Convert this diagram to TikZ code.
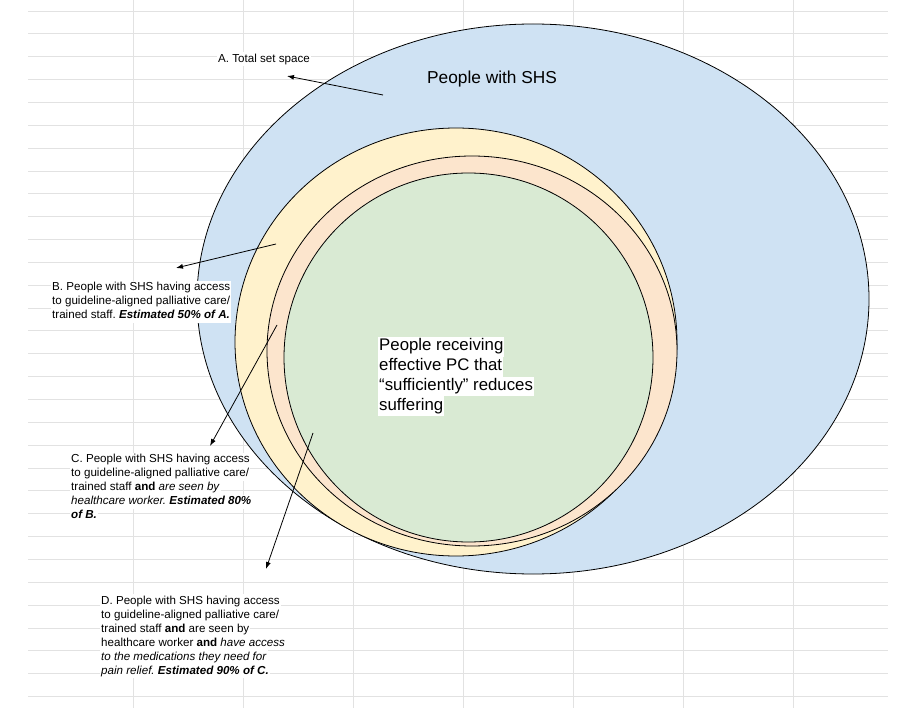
\documentclass[tikz,border=0pt]{standalone}
\usepackage{fontspec}
\setmainfont{Liberation Sans}
\usetikzlibrary{arrows.meta}
\frenchspacing

\definecolor{shsblue}{HTML}{CFE2F3}
\definecolor{accyellow}{HTML}{FFF2CC}
\definecolor{seenpeach}{HTML}{FCE5CD}
\definecolor{medsgreen}{HTML}{D9EAD3}
\definecolor{gridgray}{HTML}{E2E2E2}

% white highlight behind one line of text
\newcommand\hlbox[1]{{\setlength\fboxsep{0pt}\colorbox{white}{\kern1pt\strut#1\kern1pt}}}

\tikzset{
  setline/.style={draw=black,line width=0.8pt},
  pointer/.style={-{Latex[length=7pt,width=5pt]},line width=0.8pt},
  smalltext/.style={anchor=north west,inner sep=0pt,align=left,font={\fontsize{11.6}{14}\selectfont}},
  bigtext/.style={anchor=north west,inner sep=0pt,align=left,font={\fontsize{16.8}{19.7}\selectfont}},
}

\begin{document}
\begin{tikzpicture}[x=1pt,y=-1pt]
  \useasboundingbox (0,0) rectangle (918,708);
  % spreadsheet grid
  \foreach \k in {0,...,30}{\draw[gridgray,line width=0.8pt] (28,11+22.85*\k) -- (888,11+22.85*\k);}
  \foreach \x in {133,243,...,793}{\draw[gridgray,line width=0.8pt] (\x,0) -- (\x,708);}
  % nested sets
  \draw[setline,fill=shsblue] (533,299) ellipse [x radius=336,y radius=275];
  \draw[setline,fill=accyellow] (456,342) ellipse [x radius=221,y radius=214];
  \draw[setline,fill=seenpeach] (472,351) ellipse [x radius=205,y radius=195];
  \draw[setline,fill=medsgreen] (468.5,357.5) circle [radius=184.5];
  % arrows to the labels
  \coordinate (fromA) at (383,95);  \coordinate (tipA) at (287,76);
  \coordinate (fromB) at (276,244); \coordinate (tipB) at (176,268);
  \coordinate (fromC) at (277,325); \coordinate (tipC) at (210,446);
  \coordinate (fromD) at (313,433); \coordinate (tipD) at (266,569);
  \foreach \s in {A,B,C,D}{\draw[pointer] (from\s) -- (tip\s);}
  % labels
  \node[font={\fontsize{17.3}{20}\selectfont},anchor=base west,inner sep=0pt] (shs) at (427,83.3) {People with SHS};
  \node[smalltext] (labelA) at (217,52.2) {\hlbox{A. Total set space}};
  \node[smalltext] (labelB) at (51,280.7) {\hlbox{B. People with SHS having access}\\
    \hlbox{to guideline-aligned palliative care/}\\
    \hlbox{trained staff. \textbf{\textit{Estimated 50\% of A.}}}};
  \node[smalltext] (labelC) at (70,452.7) {\hlbox{C. People with SHS having access}\\
    \hlbox{to guideline-aligned palliative care/}\\
    \hlbox{trained staff \textbf{and} \textit{are seen by}}\\
    \hlbox{\textit{healthcare worker.} \textbf{\textit{Estimated 80\%}}}\\
    \hlbox{\textbf{\textit{of B.}}}};
  \node[smalltext] (labelD) at (100,594.2) {\hlbox{D. People with SHS having access}\\
    \hlbox{to guideline-aligned palliative care/}\\
    \hlbox{trained staff \textbf{and} are seen by}\\
    \hlbox{healthcare worker \textbf{and} \textit{have access}}\\
    \hlbox{\textit{to the medications they need for}}\\
    \hlbox{\textit{pain relief.} \textbf{\textit{Estimated 90\% of C.}}}};
  \node[bigtext] (effective) at (378,337) {\hlbox{People receiving}\\
    \hlbox{effective PC that}\\
    \hlbox{“sufficiently” reduces}\\
    \hlbox{suffering}};
\end{tikzpicture}
\end{document}
